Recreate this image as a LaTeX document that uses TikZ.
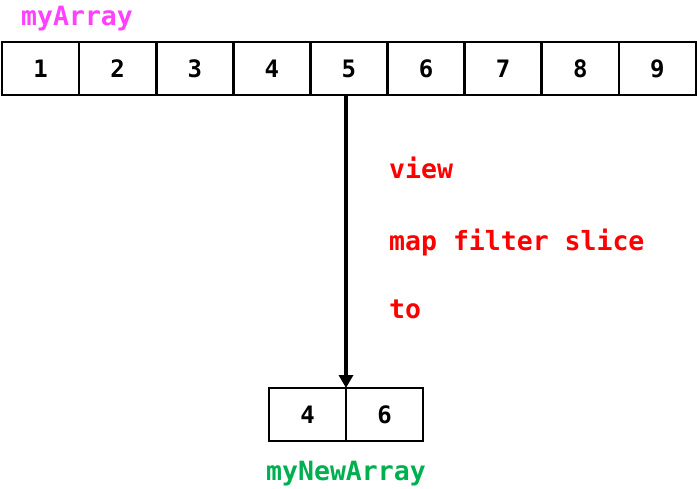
\documentclass[tikz,border=0pt]{standalone}
\usepackage{fontspec}
\setmonofont{DejaVu Sans Mono}
\usetikzlibrary{arrows.meta}
\definecolor{magentalbl}{RGB}{255,64,255}
\definecolor{greenlbl}{RGB}{0,176,80}
\definecolor{redlbl}{RGB}{255,0,0}
\begin{document}
\begin{tikzpicture}[x=1pt,y=-1pt,
  cell/.style={draw=black,line width=2.5pt,minimum width=77pt,minimum height=53pt,inner sep=0pt,outer sep=0pt,
    text height=17.5pt,text depth=0pt,
    font=\ttfamily\bfseries\fontsize{24}{24}\selectfont},
  lbl/.style={inner sep=0pt,anchor=base west,font=\ttfamily\bfseries\fontsize{26.5}{26.5}\selectfont}]
\path[use as bounding box] (0,0) rectangle (697,488);
\foreach \i [count=\k from 0] in {1,...,9} {
  \node[cell] (a\i) at ({2+38.55+77.1*\k},68.5) {\i};
}
\node[cell] (b1) at (307.5,414.5) {4};
\node[cell] (b2) at (384.5,414.5) {6};
\node[lbl,text=magentalbl] (l1) at (21,25) {myArray};
\node[lbl,text=greenlbl] (l2) at (266,480) {myNewArray};
\node[lbl,text=redlbl] (v) at (389,178) {view};
\node[lbl,text=redlbl] (m) at (389,250) {map filter slice};
\node[lbl,text=redlbl] (t) at (389,318) {to};
\coordinate (top) at (a5.south -| b1.north east);
\draw[line width=3.5pt,-{Triangle[length=13pt,width=14pt]}] (top) -- (b1.north east);
\end{tikzpicture}
\end{document}
